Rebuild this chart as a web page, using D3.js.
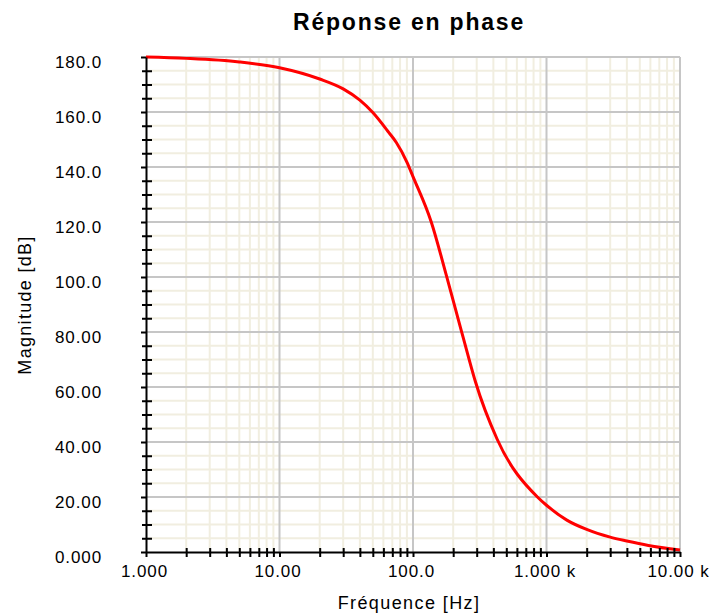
<!DOCTYPE html>
<html>
<head>
<meta charset="utf-8">
<script src="https://cdn.jsdelivr.net/npm/d3@7"></script>
<style>
  body { margin: 0; background: #fff; }
  svg text { font-family: 'Liberation Sans', Arial, sans-serif; fill: #000; }
</style>
</head>
<body>
<div class="chart"></div>
<script>
// data
const frequencies = [1, 2, 5, 10, 20, 30, 40, 50, 66, 75, 90, 100, 137, 178, 230, 255, 294, 427, 855, 1000, 1420, 2000, 3000, 4000, 5800, 10000];
const phases = [180, 179.5, 178.2, 176.1, 172, 168.4, 164.3, 159.8, 152.5, 148.9, 141.8, 136.5, 120, 100.5, 80.5, 72.5, 61.8, 41, 20, 17, 11.6, 8.2, 5.4, 4, 2.4, 0.7];

const xTickValues = [1, 10, 100, 1000, 10000];
const xTickLabels = ['1.000', '10.00', '100.0', '1.000 k', '10.00 k'];
const yTickValues = [0, 20, 40, 60, 80, 100, 120, 140, 160, 180];
const yTickLabels = ['0.000', '20.00', '40.00', '60.00', '80.00', '100.0', '120.0', '140.0', '160.0', '180.0'];

const titleText = 'Réponse en phase';
const xTitle = 'Fréquence [Hz]';
const yTitle = 'Magnitude [dB]';

const dimensions = {
  width: 720,
  height: 613,
  margin: { top: 57, right: 40, bottom: 61, left: 146 },
};
dimensions.boundedWidth = dimensions.width - dimensions.margin.left - dimensions.margin.right;
dimensions.boundedHeight = dimensions.height - dimensions.margin.top - dimensions.margin.bottom;

const svg = d3.select('.chart')
  .append('svg')
  .attr('width', dimensions.width)
  .attr('height', dimensions.height);

const bounds = svg.append('g')
  .attr('transform', `translate(${dimensions.margin.left},${dimensions.margin.top})`);

const xScale = d3.scaleLog()
  .domain([1, 10000])
  .range([0, dimensions.boundedWidth]);

const yScale = d3.scaleLinear()
  .domain([0, 180])
  .range([dimensions.boundedHeight, 0]);

// minor values
const xMinor = [];
for (let dec = 1; dec < 10000; dec *= 10) {
  for (let k = 2; k <= 9; k++) xMinor.push(dec * k);
}
const yMinor = d3.range(0, 181, 5).filter((v) => v % 20 !== 0);

// grid, minor first
const grid = bounds.append('g');
grid.selectAll('.vminor').data(xMinor).join('line')
  .attr('x1', (d) => xScale(d)).attr('x2', (d) => xScale(d))
  .attr('y1', 0).attr('y2', dimensions.boundedHeight)
  .attr('stroke', '#f1eee0').attr('stroke-width', 2);
grid.selectAll('.hminor').data(yMinor).join('line')
  .attr('x1', 0).attr('x2', dimensions.boundedWidth)
  .attr('y1', (d) => yScale(d)).attr('y2', (d) => yScale(d))
  .attr('stroke', '#f1eee0').attr('stroke-width', 2);
grid.selectAll('.vmajor').data(xTickValues.slice(1)).join('line')
  .attr('x1', (d) => xScale(d)).attr('x2', (d) => xScale(d))
  .attr('y1', 0).attr('y2', dimensions.boundedHeight)
  .attr('stroke', '#c6c6c6').attr('stroke-width', 2);
grid.selectAll('.hmajor').data(yTickValues.slice(1)).join('line')
  .attr('x1', 0).attr('x2', dimensions.boundedWidth)
  .attr('y1', (d) => yScale(d)).attr('y2', (d) => yScale(d))
  .attr('stroke', '#c6c6c6').attr('stroke-width', 2);

// curve
const lineGenerator = d3.line()
  .x((d, i) => xScale(frequencies[i]))
  .y((d) => yScale(d))
  .curve(d3.curveMonotoneX);

bounds.append('path')
  .attr('d', lineGenerator(phases))
  .attr('fill', 'none')
  .attr('stroke', '#ff0000')
  .attr('stroke-width', 3);

// y axis
const yAxis = bounds.append('g')
  .call(d3.axisLeft(yScale)
    .tickValues(yTickValues)
    .tickFormat((d, i) => yTickLabels[i])
    .tickSizeInner(5)
    .tickSizeOuter(0)
    .tickPadding(39));
yAxis.select('.domain').attr('stroke', '#000').attr('stroke-width', 2);
yAxis.selectAll('.tick line').attr('stroke', '#000').attr('stroke-width', 2);
yAxis.selectAll('.tick text')
  .style('font-size', '17px')
  .style('letter-spacing', '0.9px')
  .attr('dy', '0.62em');

const yMinorAxis = bounds.append('g')
  .call(d3.axisLeft(yScale).tickValues(yMinor).tickSize(4).tickFormat(''));
yMinorAxis.select('.domain').remove();
yMinorAxis.selectAll('.tick line').attr('x2', -4).attr('x1', 6)
  .attr('stroke', '#000').attr('stroke-width', 2);

// x axis
const xAxis = bounds.append('g')
  .attr('transform', `translate(0,${dimensions.boundedHeight})`)
  .call(d3.axisBottom(xScale)
    .tickValues(xTickValues)
    .tickFormat((d, i) => xTickLabels[i])
    .tickSizeInner(5)
    .tickSizeOuter(0)
    .tickPadding(8));
xAxis.select('.domain').attr('stroke', '#000').attr('stroke-width', 2);
xAxis.selectAll('.tick line').attr('stroke', '#000').attr('stroke-width', 2);
xAxis.selectAll('.tick text')
  .style('font-size', '17px')
  .style('letter-spacing', '0.9px')
  .attr('dx', '-2');

const xMinorAxis = bounds.append('g')
  .attr('transform', `translate(0,${dimensions.boundedHeight})`)
  .call(d3.axisBottom(xScale).tickValues(xMinor).tickSize(5).tickFormat(''));
xMinorAxis.select('.domain').remove();
xMinorAxis.selectAll('.tick line').attr('y1', -4)
  .attr('stroke', '#000').attr('stroke-width', 2);

// titles
svg.append('text')
  .attr('x', 409)
  .attr('y', 30)
  .attr('text-anchor', 'middle')
  .style('font-size', '23px')
  .style('letter-spacing', '1.8px')
  .style('font-weight', 'bold')
  .text(titleText);

svg.append('text')
  .attr('x', 409)
  .attr('y', 609)
  .attr('text-anchor', 'middle')
  .style('font-size', '18px')
  .style('letter-spacing', '1.4px')
  .text(xTitle);

svg.append('text')
  .attr('transform', 'translate(31,305) rotate(-90)')
  .attr('text-anchor', 'middle')
  .style('font-size', '18px')
  .style('letter-spacing', '1.3px')
  .text(yTitle);
</script>
</body>
</html>
